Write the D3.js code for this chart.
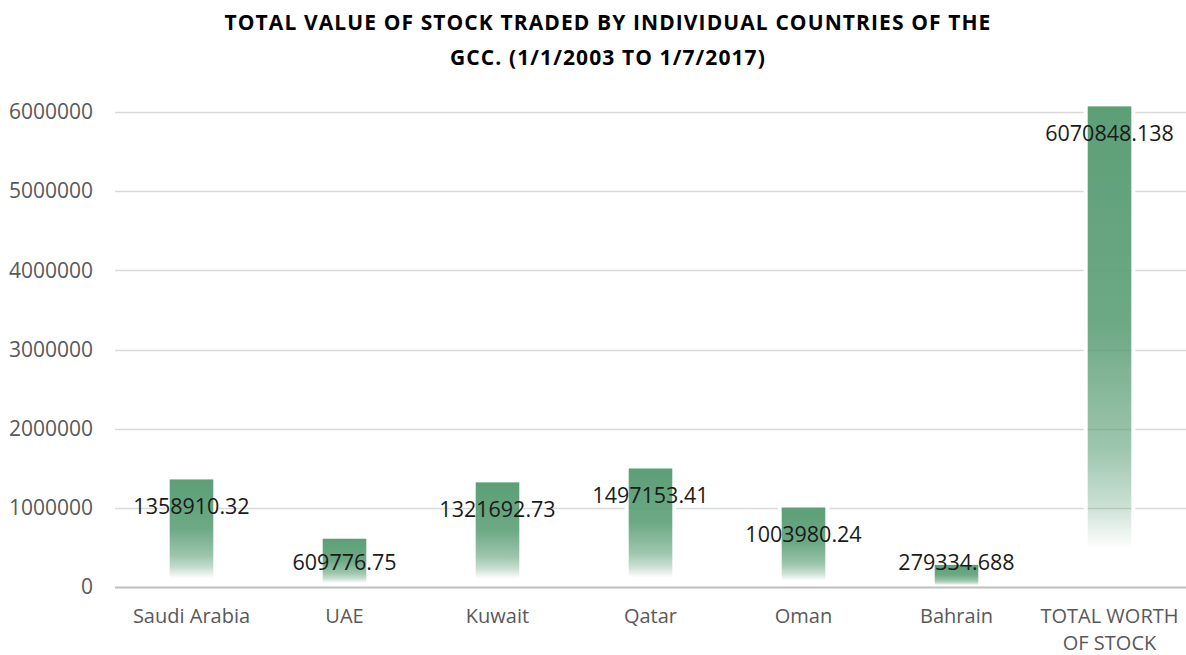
<!DOCTYPE html>
<html>
<head>
<meta charset="utf-8">
<script src="https://cdn.jsdelivr.net/npm/d3@7"></script>
<style>
  html, body { margin: 0; padding: 0; background: #fff; }
  svg { display: block; }
</style>
</head>
<body>
<svg id="chart" width="1186" height="655"></svg>
<script>
const categories = ["Saudi Arabia", "UAE", "Kuwait", "Qatar", "Oman", "Bahrain", "TOTAL WORTH OF STOCK"];
const categoryLines = [["Saudi Arabia"], ["UAE"], ["Kuwait"], ["Qatar"], ["Oman"], ["Bahrain"], ["TOTAL WORTH", "OF STOCK"]];
const values = [1358910.32, 609776.75, 1321692.73, 1497153.41, 1003980.24, 279334.688, 6070848.138];
const valueLabels = ["1358910.32", "609776.75", "1321692.73", "1497153.41", "1003980.24", "279334.688", "6070848.138"];
const yTicks = [0, 1000000, 2000000, 3000000, 4000000, 5000000, 6000000];
const titleLines = ["TOTAL VALUE OF STOCK TRADED BY INDIVIDUAL COUNTRIES OF THE", "GCC. (1/1/2003 TO 1/7/2017)"];

const svg = d3.select("#chart");
const W = 1186, H = 655;
const margin = { left: 115, right: 0, top: 112, bottom: 68 };
const plotBottom = H - margin.bottom; // 587

const x = d3.scaleBand().domain(categories).range([margin.left, W - margin.right]).paddingInner(0.715).paddingOuter(0.3575);
const y = d3.scaleLinear().domain([0, 6000000]).range([plotBottom, margin.top]);

// gradient
const defs = svg.append("defs");
const grad = defs.append("linearGradient").attr("id", "barGrad")
  .attr("x1", 0).attr("y1", 0).attr("x2", 0).attr("y2", 1);
[[0, 1], [0.45, 0.9], [0.71, 0.6], [0.82, 0.35], [0.92, 0], [1, 0]].forEach(([o, op]) => {
  grad.append("stop").attr("offset", o).attr("stop-color", "#5c9f77").attr("stop-opacity", op);
});

// title
svg.append("g").selectAll("text").data(titleLines).join("text")
  .attr("x", 608).attr("y", (d, i) => 30 + i * 35)
  .attr("text-anchor", "middle")
  .style("font-family", "'Open Sans', sans-serif")
  .style("font-weight", "bold")
  .style("font-size", "21px")
  .style("letter-spacing", "1.1px")
  .attr("fill", "#000")
  .text(d => d);

// gridlines
svg.append("g").selectAll("line").data(yTicks).join("line")
  .attr("x1", margin.left).attr("x2", W)
  .attr("y1", d => Math.round(y(d)) + 0.5).attr("y2", d => Math.round(y(d)) + 0.5)
  .attr("stroke", d => d === 0 ? "#bfbfbf" : "#d9d9d9")
  .attr("stroke-width", d => d === 0 ? 2 : 1.5);

// y axis labels
const yAxis = d3.axisLeft(y).tickValues(yTicks).tickFormat(d3.format("d")).tickSize(0).tickPadding(0);
const yg = svg.append("g").attr("transform", `translate(93,0)`).call(yAxis);
yg.select(".domain").remove();
yg.selectAll("text")
  .style("font-family", "'Open Sans', sans-serif")
  .style("font-size", "21px")
  .attr("fill", "#595959");

// bars
const bars = svg.append("g");
bars.selectAll("rect.gap").data(values).join("rect").attr("class", "gap")
  .attr("x", (d, i) => x(categories[i]) - 2)
  .attr("width", x.bandwidth() + 4)
  .attr("y", d => y(d) - 2)
  .attr("height", d => Math.max(0, plotBottom - 4 - y(d)))
  .attr("fill", "none").attr("stroke", "#fff").attr("stroke-width", 4);
bars.selectAll("rect.bar").data(values).join("rect").attr("class", "bar")
  .attr("x", (d, i) => x(categories[i]))
  .attr("width", x.bandwidth())
  .attr("y", d => y(d))
  .attr("height", d => plotBottom - y(d))
  .attr("fill", "url(#barGrad)");

// value labels
svg.append("g").selectAll("text").data(values).join("text")
  .attr("x", (d, i) => x(categories[i]) + x.bandwidth() / 2)
  .attr("y", d => Math.min(y(d) + 27, plotBottom - 25))
  .attr("dy", "0.35em")
  .attr("text-anchor", "middle")
  .style("font-family", "'Open Sans', sans-serif")
  .style("font-size", "21.5px")
  .attr("fill", "#1a1a1a")
  .text((d, i) => valueLabels[i]);

// x labels
const xg = svg.append("g");
categories.forEach((c, i) => {
  const t = xg.append("text")
    .attr("x", x(c) + x.bandwidth() / 2)
    .attr("y", 623)
    .attr("text-anchor", "middle")
    .style("font-family", "'Open Sans', sans-serif")
    .style("font-size", "20px")
    .attr("fill", "#595959");
  categoryLines[i].forEach((line, j) => {
    t.append("tspan").attr("x", x(c) + x.bandwidth() / 2).attr("dy", j === 0 ? 0 : 27).text(line);
  });
});
</script>
</body>
</html>
